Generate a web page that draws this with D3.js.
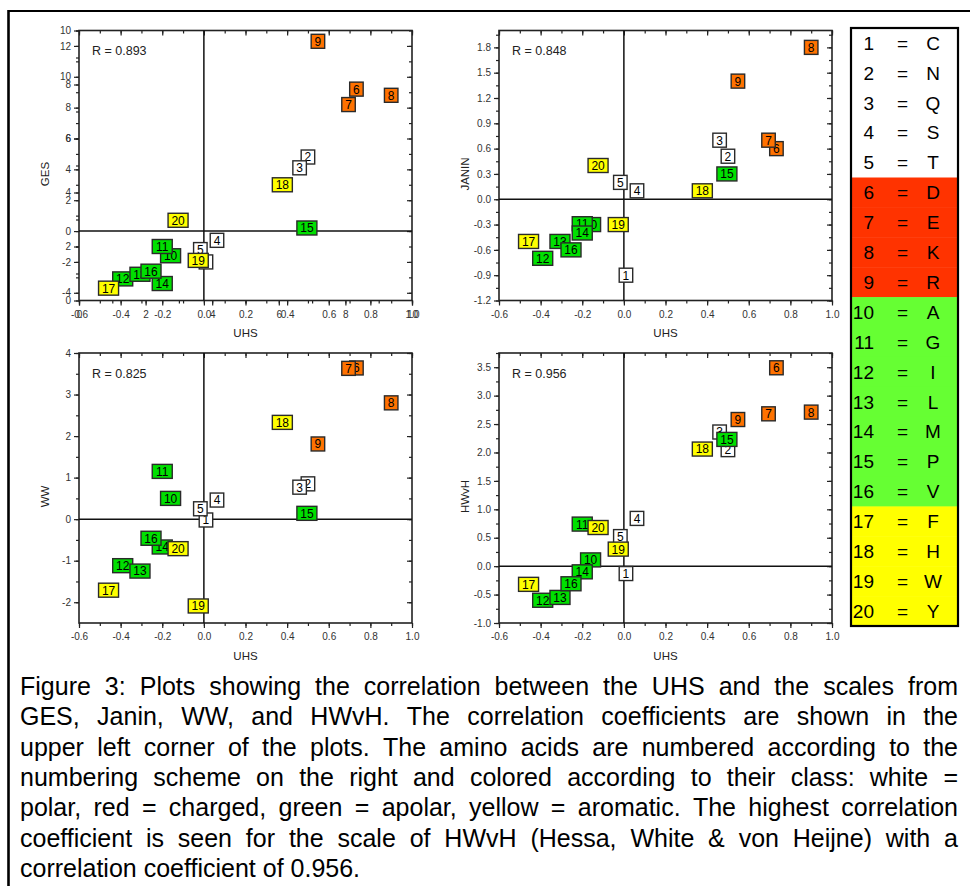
<!DOCTYPE html>
<html>
<head>
<meta charset="utf-8">
<script src="https://cdn.jsdelivr.net/npm/d3@7"></script>
<style>
  html, body { margin: 0; padding: 0; background: #fff; }
  svg { display: block; }
  text { font-family: Arial, "Liberation Sans", sans-serif; }
</style>
</head>
<body>
<svg id="chart" width="970" height="886"></svg>
<script>
// ---------------- DATA ----------------
const aminoIds = d3.range(1, 21);
const letters = ["C","N","Q","S","T","D","E","K","R","A","G","I","L","M","P","V","F","H","W","Y"];
const classes = ["polar","polar","polar","polar","polar",
                 "charged","charged","charged","charged",
                 "apolar","apolar","apolar","apolar","apolar","apolar","apolar",
                 "aromatic","aromatic","aromatic","aromatic"];
const uhs   = [0.010, 0.500, 0.460, 0.063, -0.017, 0.733, 0.695, 0.900, 0.548, -0.160,
               -0.200, -0.390, -0.307, -0.200, 0.495, -0.254, -0.458, 0.377, -0.027, -0.124];
const ges   = [-2.0, 4.8, 4.1, -0.6, -1.2, 9.2, 8.2, 8.8, 12.3, -1.6,
               -1.0, -3.1, -2.8, -3.4, 0.2, -2.6, -3.7, 3.0, -1.9, 0.7];
const janin = [-0.90, 0.51, 0.70, 0.10, 0.20, 0.60, 0.70, 1.80, 1.40, -0.30,
               -0.29, -0.70, -0.50, -0.40, 0.30, -0.60, -0.50, 0.10, -0.30, 0.40];
const ww    = [-0.02, 0.85, 0.77, 0.46, 0.25, 3.64, 3.63, 2.80, 1.81, 0.50,
               1.15, -1.12, -1.25, -0.67, 0.14, -0.46, -1.71, 2.33, -2.09, -0.71];
const hwvh  = [-0.13, 2.05, 2.36, 0.84, 0.52, 3.49, 2.68, 2.71, 2.58, 0.11,
               0.74, -0.60, -0.55, -0.10, 2.23, -0.31, -0.32, 2.06, 0.30, 0.68];
const rValues = ["0.893", "0.848", "0.825", "0.956"];
const scaleNames = ["GES", "JANIN", "WW", "HWvH"];

// tick labels
const xTicks     = [-0.6, -0.4, -0.2, 0.0, 0.2, 0.4, 0.6, 0.8, 1.0];
const gesTicks   = [-4, -2, 0, 2, 4, 6, 8, 10, 12];
const gesAltTicks= [0, 2, 4, 6, 8, 10];
const janinTicks = [-1.2, -0.9, -0.6, -0.3, 0.0, 0.3, 0.6, 0.9, 1.2, 1.5, 1.8];
const wwTicks    = [-2, -1, 0, 1, 2, 3, 4];
const hwvhTicks  = [-1.0, -0.5, 0.0, 0.5, 1.0, 1.5, 2.0, 2.5, 3.0, 3.5];

const captionLines = [
  "Figure 3: Plots showing the correlation between the UHS and the scales from",
  "GES, Janin, WW, and HWvH. The correlation coefficients are shown in the",
  "upper left corner of the plots. The amino acids are numbered according to the",
  "numbering scheme on the right and colored according to their class: white =",
  "polar, red = charged, green = apolar, yellow = aromatic. The highest correlation",
  "coefficient is seen for the scale of HWvH (Hessa, White & von Heijne) with a",
  "correlation coefficient of 0.956."
];

// ---------------- STYLE ----------------
const markerFill = { polar: "#ffffff", charged: "#ff7200", apolar: "#00e000", aromatic: "#ffff00" };
const legendFill = { polar: "#ffffff", charged: "#ff3300", apolar: "#66ff33", aromatic: "#ffff00" };

const svg = d3.select("#chart");
const W = 333, H = 270;

const panelCfg = [
  { name: scaleNames[0], vals: ges,   r: rValues[0], left: 79,  top: 30.5, dom: [-4.5, 13],  ticks: gesTicks,   step: 1,    fmt: d => String(d), alt: true },
  { name: scaleNames[1], vals: janin, r: rValues[1], left: 499, top: 30.5, dom: [-1.2, 2.0], ticks: janinTicks, step: 0.15, fmt: d => d.toFixed(1) },
  { name: scaleNames[2], vals: ww,    r: rValues[2], left: 79,  top: 353,  dom: [-2.5, 4],   ticks: wwTicks,    step: 0.5,  fmt: d => String(d) },
  { name: scaleNames[3], vals: hwvh,  r: rValues[3], left: 499, top: 353,  dom: [-1.0, 3.75],ticks: hwvhTicks,  step: 0.25, fmt: d => d.toFixed(1) }
];

function minorRange(lo, hi, step) {
  const out = [];
  const n = Math.round((hi - lo) / step);
  for (let i = 0; i <= n; i++) out.push(lo + i * step);
  return out;
}

function styleAxis(g, showLabels) {
  g.select(".domain").remove();
  g.selectAll(".tick line").attr("stroke", "#222").attr("stroke-width", 1.2);
  g.selectAll(".tick text").attr("fill", "#333").attr("font-size", 10).attr("font-family", "Arial, 'Liberation Sans', sans-serif");
  if (!showLabels) g.selectAll(".tick text").remove();
}

panelCfg.forEach(cfg => {
  const g = svg.append("g").attr("transform", `translate(${cfg.left},${cfg.top})`);
  const x = d3.scaleLinear().domain([-0.6, 1.0]).range([0, W]);
  const y = d3.scaleLinear().domain(cfg.dom).range([H, 0]);

  const xMinor = minorRange(-0.6, 1.0, 0.1);
  const yMinor = minorRange(cfg.ticks[0], cfg.dom[1], cfg.step).filter(v => v >= cfg.dom[0] - 1e-9 && v <= cfg.dom[1] + 1e-9);

  // bottom
  g.append("g").attr("transform", `translate(0,${H})`)
    .call(d3.axisBottom(x).tickValues(xMinor).tickSize(3).tickFormat(""))
    .call(a => styleAxis(a, false));
  g.append("g").attr("transform", `translate(0,${H})`)
    .call(d3.axisBottom(x).tickValues(xTicks).tickSize(5).tickPadding(5).tickFormat(d => d.toFixed(1)))
    .call(a => styleAxis(a, true));
  // top (inward)
  g.append("g").call(d3.axisTop(x).tickValues(xTicks).tickSize(-5).tickFormat("")).call(a => styleAxis(a, false));
  g.append("g").call(d3.axisTop(x).tickValues(xMinor).tickSize(-3).tickFormat("")).call(a => styleAxis(a, false));
  // left
  g.append("g").call(d3.axisLeft(y).tickValues(yMinor).tickSize(3).tickFormat("")).call(a => styleAxis(a, false));
  g.append("g").call(d3.axisLeft(y).tickValues(cfg.ticks).tickSize(5).tickPadding(3).tickFormat(cfg.fmt))
    .call(a => styleAxis(a, true));
  // right (inward)
  g.append("g").attr("transform", `translate(${W},0)`)
    .call(d3.axisRight(y).tickValues(cfg.ticks).tickSize(-5).tickFormat("")).call(a => styleAxis(a, false));
  g.append("g").attr("transform", `translate(${W},0)`)
    .call(d3.axisRight(y).tickValues(yMinor).tickSize(-3).tickFormat("")).call(a => styleAxis(a, false));

  if (cfg.alt) {
    // overlaid secondary axes (0..10) as in the original figure
    const x2 = d3.scaleLinear().domain([0, 10]).range([0, W]);
    const y2 = d3.scaleLinear().domain([0, 10]).range([H, 0]);
    const alt1 = minorRange(0, 10, 1);
    g.append("g").attr("transform", `translate(0,${H})`)
      .call(d3.axisBottom(x2).tickValues(alt1).tickSize(3).tickFormat("")).call(a => styleAxis(a, false));
    g.append("g").attr("transform", `translate(0,${H})`)
      .call(d3.axisBottom(x2).tickValues(gesAltTicks).tickSize(5).tickPadding(5).tickFormat(d => String(d)))
      .call(a => styleAxis(a, true));
    g.append("g").call(d3.axisLeft(y2).tickValues(alt1).tickSize(3).tickFormat("")).call(a => styleAxis(a, false));
    g.append("g").call(d3.axisLeft(y2).tickValues(gesAltTicks).tickSize(5).tickPadding(3).tickFormat(d => String(d)))
      .call(a => styleAxis(a, true));
  }

  // frame
  g.append("rect").attr("x", 0).attr("y", 0).attr("width", W).attr("height", H)
    .attr("fill", "none").attr("stroke", "#222").attr("stroke-width", 1.6);
  // zero lines
  g.append("line").attr("x1", x(0)).attr("x2", x(0)).attr("y1", 0).attr("y2", H)
    .attr("stroke", "#111").attr("stroke-width", 1.5);
  g.append("line").attr("x1", 0).attr("x2", W).attr("y1", y(0)).attr("y2", y(0))
    .attr("stroke", "#111").attr("stroke-width", 1.5);

  // R label
  g.append("text").attr("x", 13).attr("y", 24.5).attr("font-size", 12.5).attr("fill", "#222")
    .text("R = " + cfg.r);

  // axis titles
  g.append("text").attr("x", W / 2).attr("y", H + 36.5).attr("text-anchor", "middle")
    .attr("font-size", 11.5).attr("fill", "#222").text("UHS");
  g.append("text").attr("transform", `translate(${-30.5},${H / 2 + 8.5}) rotate(-90)`)
    .attr("text-anchor", "middle").attr("font-size", 11.5).attr("fill", "#222").text(cfg.name);

  // markers
  const pts = aminoIds.map((id, i) => ({ id, x: uhs[i], y: cfg.vals[i], cls: classes[i] }));
  const m = g.selectAll("g.pt").data(pts).join("g").attr("class", "pt")
    .attr("transform", d => `translate(${x(d.x)},${y(d.y)})`);
  m.each(function(d) {
    const s = d3.select(this);
    const w = d.id < 10 ? 13.5 : 20;
    const h = 14;
    s.append("rect").attr("x", -w / 2).attr("y", -h / 2).attr("width", w).attr("height", h)
      .attr("fill", markerFill[d.cls]).attr("stroke", "#2a2a2a").attr("stroke-width", 1.4);
    s.append("text").attr("text-anchor", "middle").attr("y", 4.4).attr("font-size", 12)
      .attr("fill", "#000").text(d.id);
  });
});

// ---------------- LEGEND ----------------
const legX = 851, legY = 28, legW = 107, rowH = 29.9;
const leg = svg.append("g");
aminoIds.forEach((id, i) => {
  leg.append("rect").attr("x", legX).attr("y", legY + i * rowH).attr("width", legW).attr("height", rowH + 0.5)
    .attr("fill", legendFill[classes[i]]);
  const cy = legY + i * rowH + rowH / 2 + 6.8;
  leg.append("text").attr("x", 874).attr("y", cy).attr("text-anchor", "end").attr("font-size", 19).text(id);
  leg.append("text").attr("x", 902.5).attr("y", cy).attr("text-anchor", "middle").attr("font-size", 19).text("=");
  leg.append("text").attr("x", 933).attr("y", cy).attr("text-anchor", "middle").attr("font-size", 19).text(letters[i]);
});
leg.append("rect").attr("x", legX).attr("y", legY).attr("width", legW).attr("height", rowH * 20)
  .attr("fill", "none").attr("stroke", "#000").attr("stroke-width", 2.2);

// ---------------- FIGURE BORDER ----------------
svg.append("line").attr("x1", 8.5).attr("x2", 975).attr("y1", 11).attr("y2", 11).attr("stroke", "#000").attr("stroke-width", 2.2);
svg.append("line").attr("x1", 8.5).attr("x2", 8.5).attr("y1", 10).attr("y2", 900).attr("stroke", "#000").attr("stroke-width", 2.6);

// ---------------- CAPTION (justified) ----------------
const capFs = 25, capL = 20, capR = 958, capY0 = 695, capDy = 30.3;
captionLines.forEach((ln, i) => {
  const y0 = capY0 + i * capDy;
  const words = ln.split(" ");
  const cg = svg.append("g");
  const nodes = words.map(w => cg.append("text").attr("y", y0).attr("font-size", capFs).attr("fill", "#000").text(w));
  const widths = nodes.map(n => n.node().getComputedTextLength());
  const total = d3.sum(widths);
  const last = i === captionLines.length - 1;
  const gap = last ? capFs * 0.278 : (capR - capL - total) / (words.length - 1);
  let xx = capL;
  nodes.forEach((n, j) => { n.attr("x", xx); xx += widths[j] + gap; });
});
</script>
</body>
</html>
